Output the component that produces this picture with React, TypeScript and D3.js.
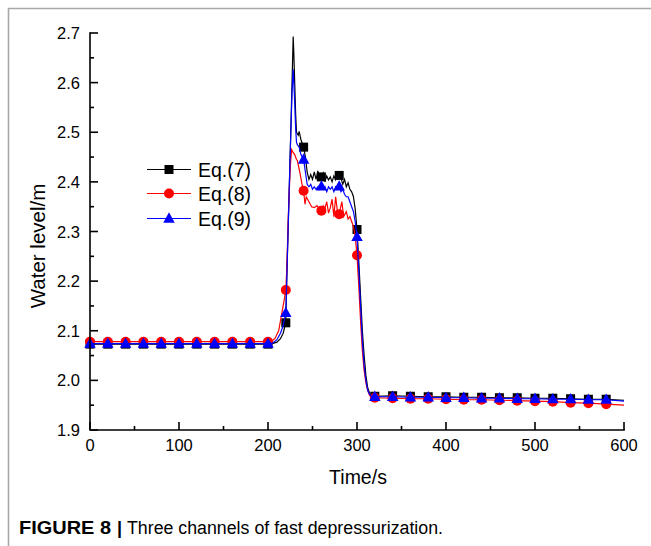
import React from 'react';
import * as d3 from 'd3';

// ---------- data ----------
const xTickValues = [0, 100, 200, 300, 400, 500, 600];
const xMinorTicks = [50, 150, 250, 350, 450, 550];
const yTickValues = [1.9, 2.0, 2.1, 2.2, 2.3, 2.4, 2.5, 2.6, 2.7];
const yMinorTicks = [1.95, 2.05, 2.15, 2.25, 2.35, 2.45, 2.55, 2.65];
const markerTimes = [0, 20, 40, 60, 80, 100, 120, 140, 160, 180, 200, 220, 240, 260, 280, 300, 320, 340, 360, 380, 400, 420, 440, 460, 480, 500, 520, 540, 560, 580];

const eq7: [number, number][] = [
  [0, 2.073], [20, 2.073], [40, 2.073], [60, 2.073], [80, 2.073], [100, 2.073], [120, 2.073], [140, 2.073], [160, 2.073], [180, 2.073], [200, 2.073],
  [205, 2.074], [210, 2.077], [214, 2.084], [217, 2.095], [220, 2.116], [221, 2.2], [223, 2.33], [225, 2.46], [227, 2.6], [228.3, 2.693], [229, 2.66],
  [230, 2.6], [231, 2.54], [232, 2.5], [234, 2.494], [235, 2.502], [237, 2.485], [238, 2.48], [240, 2.47], [242, 2.45], [244, 2.42], [246, 2.405],
  [248, 2.415], [250, 2.405], [252, 2.42], [254, 2.405], [256, 2.422], [258, 2.408], [260, 2.41], [262, 2.418], [264, 2.4], [266, 2.412], [268, 2.404],
  [270, 2.41], [272, 2.4], [274, 2.412], [276, 2.404], [278, 2.416], [280, 2.413], [282, 2.408], [284, 2.395], [286, 2.405], [288, 2.39], [290, 2.398],
  [292, 2.385], [294, 2.38], [296, 2.37], [298, 2.345], [300, 2.304], [302, 2.24], [304, 2.17], [306, 2.1], [308, 2.05], [310, 2.01], [312, 1.985],
  [314, 1.975], [316, 1.97], [320, 1.968], [340, 1.969], [360, 1.968], [380, 1.967], [400, 1.967], [420, 1.966], [440, 1.966], [460, 1.965],
  [480, 1.965], [500, 1.964], [520, 1.964], [540, 1.963], [560, 1.962], [580, 1.962], [600, 1.96],
];

const eq8: [number, number][] = [
  [0, 2.078], [20, 2.078], [40, 2.078], [60, 2.078], [80, 2.078], [100, 2.078], [120, 2.078], [140, 2.078], [160, 2.078], [180, 2.078], [200, 2.078],
  [205, 2.08], [208, 2.085], [212, 2.1], [215, 2.13], [218, 2.16], [220, 2.182], [221, 2.22], [223, 2.34], [225, 2.43], [226.5, 2.465], [228, 2.46],
  [230, 2.455], [232, 2.445], [233, 2.443], [236, 2.417], [238, 2.397], [240, 2.382], [241.6, 2.355], [243, 2.37], [246.6, 2.358], [249, 2.35],
  [252, 2.348], [255, 2.352], [258, 2.345], [260, 2.342], [262, 2.352], [264, 2.347], [266, 2.36], [268, 2.337], [270, 2.348], [272, 2.365],
  [274, 2.33], [276, 2.37], [278, 2.34], [280, 2.335], [283, 2.36], [285, 2.33], [288, 2.34], [290, 2.325], [292, 2.33], [294, 2.32], [296, 2.31],
  [298, 2.29], [300, 2.252], [302, 2.19], [304, 2.12], [306, 2.06], [308, 2.02], [310, 1.995], [312, 1.98], [314, 1.97], [316, 1.966], [320, 1.965],
  [340, 1.964], [360, 1.963], [380, 1.963], [400, 1.962], [420, 1.961], [440, 1.961], [460, 1.96], [480, 1.959], [500, 1.958], [520, 1.957],
  [540, 1.955], [560, 1.954], [580, 1.952], [600, 1.95],
];

const eq9: [number, number][] = [
  [0, 2.074], [20, 2.074], [40, 2.074], [60, 2.074], [80, 2.074], [100, 2.074], [120, 2.074], [140, 2.074], [160, 2.074], [180, 2.074], [200, 2.074],
  [205, 2.075], [210, 2.082], [214, 2.095], [217, 2.11], [220, 2.136], [221, 2.2], [223, 2.33], [225, 2.46], [227, 2.58], [228.3, 2.627], [229, 2.6],
  [230, 2.56], [231, 2.51], [232, 2.48], [233, 2.475], [235, 2.47], [237, 2.455], [240, 2.445], [242, 2.42], [244, 2.395], [246, 2.39], [248, 2.395],
  [250, 2.385], [252, 2.39], [254, 2.385], [256, 2.39], [258, 2.385], [260, 2.391], [262, 2.385], [264, 2.39], [266, 2.38], [268, 2.39], [270, 2.385],
  [272, 2.39], [274, 2.38], [276, 2.39], [278, 2.385], [280, 2.391], [282, 2.38], [284, 2.385], [286, 2.375], [288, 2.37], [290, 2.37], [292, 2.36],
  [294, 2.35], [296, 2.34], [298, 2.32], [300, 2.289], [302, 2.22], [304, 2.15], [306, 2.08], [308, 2.03], [310, 2.0], [312, 1.98], [314, 1.972],
  [316, 1.968], [320, 1.967], [340, 1.967], [360, 1.966], [380, 1.966], [400, 1.965], [420, 1.965], [440, 1.964], [460, 1.964], [480, 1.963],
  [500, 1.963], [520, 1.962], [540, 1.962], [560, 1.961], [580, 1.961], [600, 1.958],
];

const seriesNames = ['Eq.(7)', 'Eq.(8)', 'Eq.(9)'];
const seriesData = [eq7, eq8, eq9];
const seriesColors = ['#000000', '#ff0000', '#0000ff'];
const seriesShapes = ['square', 'circle', 'triangle'];

const FONT = '"Liberation Sans", Arial, Helvetica, sans-serif';

function Marker({ shape, x, y, color }: { shape: string; x: number; y: number; color: string }) {
  if (shape === 'square') return <rect x={x - 4.5} y={y - 4.5} width={9} height={9} fill={color} />;
  if (shape === 'circle') return <circle cx={x} cy={y} r={5} fill={color} />;
  const s = 11.5;
  const h = s * 0.9;
  return <path d={`M${x},${y - h * 0.6}L${x + s / 2},${y + h * 0.4}L${x - s / 2},${y + h * 0.4}Z`} fill={color} />;
}

export default function App() {
  const x = d3.scaleLinear().domain([0, 600]).range([90, 624]);
  const y = d3.scaleLinear().domain([1.9, 2.7]).range([430, 33]);
  const line = d3.line<[number, number]>().x((d) => x(d[0])).y((d) => y(d[1]));
  const fmt = d3.format('.1f');

  const legendRows = [169.5, 193.5, 218.5];

  return (
    <svg width={651} height={546} style={{ position: 'absolute', left: 0, top: 0, background: '#fff' }} fontFamily={FONT}>
      {/* page frame */}
      <line x1={8} y1={8.5} x2={651} y2={8.5} stroke="#a8a8a8" strokeWidth={1.6} />
      <line x1={8.5} y1={8} x2={8.5} y2={546} stroke="#a8a8a8" strokeWidth={1.6} />

      {/* series */}
      {seriesData.map((data, i) => (
        <g key={seriesNames[i]}>
          <path d={line(data) || ''} fill="none" stroke={seriesColors[i]} strokeWidth={1.2} />
          {markerTimes.map((t) => {
            const p = data.find((d) => d[0] === t);
            if (!p) return null;
            return <Marker key={t} shape={seriesShapes[i]} x={x(p[0])} y={y(p[1])} color={seriesColors[i]} />;
          })}
        </g>
      ))}

      {/* axes */}
      <g stroke="#000" strokeWidth={1.6} fill="none">
        <path d={`M${x(0)},${y(2.7)}V${y(1.9)}H${x(600)}`} strokeLinecap="square" />
        {xTickValues.map((t) => (
          <line key={'xt' + t} x1={x(t)} x2={x(t)} y1={y(1.9)} y2={y(1.9) - 8} />
        ))}
        {xMinorTicks.map((t) => (
          <line key={'xm' + t} x1={x(t)} x2={x(t)} y1={y(1.9)} y2={y(1.9) - 4} />
        ))}
        {yTickValues.map((v) => (
          <line key={'yt' + v} x1={x(0)} x2={x(0) + 8} y1={y(v)} y2={y(v)} />
        ))}
        {yMinorTicks.map((v) => (
          <line key={'ym' + v} x1={x(0)} x2={x(0) + 4} y1={y(v)} y2={y(v)} />
        ))}
      </g>
      <g fontSize={16.5} fill="#000">
        {xTickValues.map((t) => (
          <text key={'xl' + t} x={x(t)} y={451} textAnchor="middle">{t}</text>
        ))}
        {yTickValues.map((v) => (
          <text key={'yl' + v} x={80} y={y(v) + 6} textAnchor="end">{fmt(v)}</text>
        ))}
      </g>
      <text x={358} y={483.5} fontSize={19.5} textAnchor="middle">Time/s</text>
      <text transform="translate(45,246) rotate(-90)" fontSize={20.5} textAnchor="middle">Water level/m</text>

      {/* legend */}
      {seriesNames.map((name, i) => (
        <g key={'lg' + name}>
          <line x1={147} x2={191} y1={legendRows[i]} y2={legendRows[i]} stroke={seriesColors[i]} strokeWidth={1.2} />
          <Marker shape={seriesShapes[i]} x={169} y={legendRows[i]} color={seriesColors[i]} />
          <text x={198} y={legendRows[i] + 7} fontSize={19.5}>{name}</text>
        </g>
      ))}

      {/* caption */}
      <text x={19} y={534} fontSize={18} fontWeight="bold" textLength={92} lengthAdjust="spacingAndGlyphs">FIGURE 8</text>
      <text x={117} y={534} fontSize={18} fontWeight="bold">|</text>
      <text x={127} y={534} fontSize={18} textLength={316} lengthAdjust="spacingAndGlyphs">Three channels of fast depressurization.</text>
    </svg>
  );
}
